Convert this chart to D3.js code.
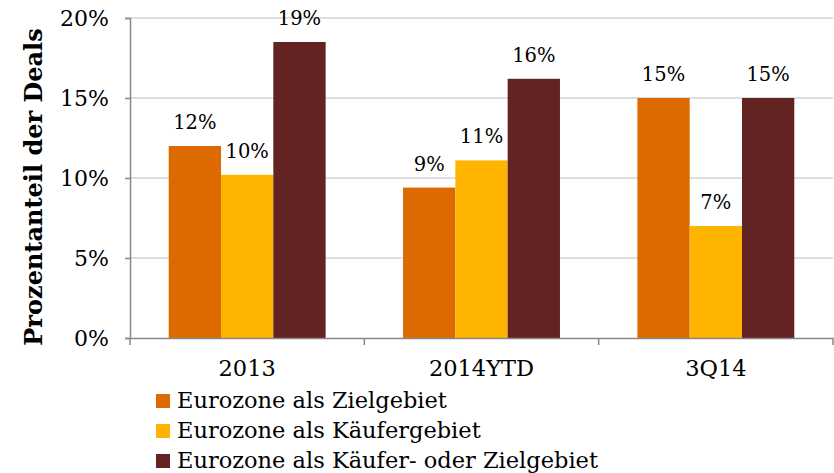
<!DOCTYPE html>
<html>
<head>
<meta charset="utf-8">
<script src="https://cdn.jsdelivr.net/npm/d3@7"></script>
<style>
  body { margin: 0; background: #fff; }
  text { font-family: "DejaVu Serif", Georgia, serif; fill: #000; }
</style>
</head>
<body>
<div id="chart"></div>
<script>
const categories = ['2013', '2014YTD', '3Q14'];
const seriesNames = ['Eurozone als Zielgebiet', 'Eurozone als Käufergebiet', 'Eurozone als Käufer- oder Zielgebiet'];
const zielgebiet = [12.0, 9.4, 15.0];
const kaeufergebiet = [10.2, 11.1, 7.0];
const beides = [18.5, 16.2, 15.0];
const yTicks = [0, 5, 10, 15, 20];
const colors = ['#DC6A00', '#FFB400', '#622322'];

const seriesValues = [zielgebiet, kaeufergebiet, beides];
const data = categories.map((c, i) => ({ cat: c, vals: seriesValues.map(s => s[i]) }));

const svg = d3.select('#chart').append('svg').attr('width', 834).attr('height', 473);
const margins = { top: 18, left: 130, right: 1, bottom: 135 };
const width = 834, height = 473;

const x0 = d3.scaleBand().domain(categories).range([margins.left, width - margins.right]).padding(0);
const x1 = d3.scaleBand().domain(seriesNames).range([0, x0.bandwidth()]).paddingInner(0).paddingOuter(0.74);
const y = d3.scaleLinear().domain([0, 20]).range([height - margins.bottom, margins.top]);

// gridlines
svg.append('g')
  .selectAll('line')
  .data(yTicks.filter(t => t > 0))
  .join('line')
  .attr('x1', margins.left).attr('x2', width - margins.right)
  .attr('y1', d => y(d)).attr('y2', d => y(d))
  .attr('stroke', '#BEBEBE').attr('stroke-width', 1);

// bars
const groups = svg.append('g').selectAll('g').data(data).join('g')
  .attr('transform', d => `translate(${x0(d.cat)},0)`);
groups.selectAll('rect')
  .data(d => d.vals.map((v, i) => ({ name: seriesNames[i], v: v, i: i })))
  .join('rect')
  .attr('x', d => x1(d.name))
  .attr('width', x1.bandwidth())
  .attr('y', d => y(d.v))
  .attr('height', d => y(0) - y(d.v))
  .attr('fill', d => colors[d.i]);
groups.selectAll('text.lbl')
  .data(d => d.vals.map((v, i) => ({ name: seriesNames[i], v: v })))
  .join('text')
  .attr('class', 'lbl')
  .attr('x', d => x1(d.name) + x1.bandwidth() / 2)
  .attr('y', d => y(d.v) - 17)
  .attr('text-anchor', 'middle')
  .attr('font-size', '19.5px')
  .text(d => Math.round(d.v) + '%');

// y axis
const yAxis = d3.axisLeft(y).tickValues(yTicks).tickFormat(d => d + '%').tickSize(5).tickPadding(16);
const yg = svg.append('g').attr('transform', `translate(${margins.left},0)`).call(yAxis);
yg.select('.domain').attr('stroke', '#888').attr('stroke-width', 1.5);
yg.selectAll('.tick line').attr('stroke', '#888').attr('stroke-width', 1.5);
yg.selectAll('.tick text').attr('font-size', '22px').attr('font-family', '"DejaVu Serif", serif').attr('fill', '#000').attr('dy', '0.36em');

// x axis
const xAxis = d3.axisBottom(x0).tickSize(0).tickPadding(0);
const xg = svg.append('g').attr('transform', `translate(0,${y(0)})`).call(xAxis);
xg.select('.domain').attr('stroke', '#888').attr('stroke-width', 1.5);
xg.selectAll('.tick text').attr('font-size', '22.5px').attr('font-family', '"DejaVu Serif", serif').attr('fill', '#000').attr('dy', '38px');
const bounds = categories.map(c => x0(c)).concat([x0(categories[categories.length - 1]) + x0.bandwidth()]);
xg.selectAll('line.sep').data(bounds).join('line').attr('class', 'sep')
  .attr('x1', d => d).attr('x2', d => d).attr('y1', 0).attr('y2', 7)
  .attr('stroke', '#888').attr('stroke-width', 1.5);

// y title
svg.append('text')
  .attr('transform', `translate(42,187) rotate(-90)`)
  .attr('text-anchor', 'middle')
  .attr('font-size', '24px')
  .attr('font-weight', 'bold')
  .text('Prozentanteil der Deals');

// legend
const legend = svg.append('g').attr('transform', 'translate(156,394)');
const items = legend.selectAll('g').data(seriesNames).join('g')
  .attr('transform', (d, i) => `translate(0,${i * 30})`);
items.append('rect').attr('width', 14).attr('height', 14).attr('fill', (d, i) => colors[i]);
items.append('text').attr('x', 21).attr('y', 14).attr('font-size', '22.5px').text(d => d);
</script>
</body>
</html>
